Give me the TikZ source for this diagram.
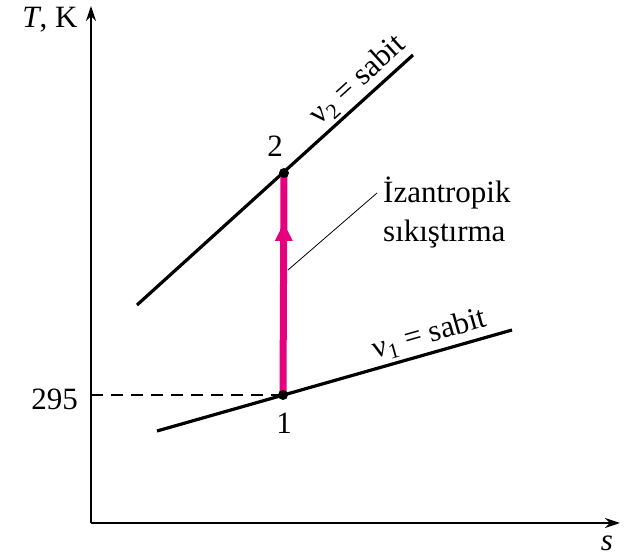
\documentclass[tikz,border=0pt]{standalone}
\usepackage{fontspec}
\setmainfont{Liberation Serif}
\usetikzlibrary{arrows.meta}
\definecolor{pinkc}{HTML}{E5007E}
\begin{document}
\begin{tikzpicture}[x=1pt,y=-1pt,
  axis/.style={line width=1.6pt,-{Stealth[length=15pt,width=10pt]}},
  curve/.style={line width=3.2pt},
  dot/.style={circle,fill=black,inner sep=0pt,minimum size=10pt},
  lbl/.style={font=\fontsize{31}{39}\selectfont},
  pt/.style={coordinate}]
\useasboundingbox (0,0) rectangle (625,559);
% axes
\coordinate (O) at (91,523);
\coordinate (Ytop) at (91,6);
\coordinate (Xend) at (620,523);
\draw[axis] (O) -- (Ytop);
\draw[axis] (O) -- (Xend);
\node[lbl,anchor=center] (Tlab) at (50,20) {\textit{T}, K};
\node[lbl,anchor=center] (slab) at (607,543) {\textit{s}};
% lines
\coordinate (a1) at (157,431);
\coordinate (b1) at (512,330);
\coordinate (a2) at (137,305);
\coordinate (b2) at (413,55);
\draw[curve] (a1) -- node[lbl,sloped,pos=0.782,above,inner sep=3pt] (v1lab) {ν\textsubscript{1} = sabit} (b1);
\draw[curve] (a2) -- node[lbl,sloped,pos=0.845,above,inner sep=3pt] (v2lab) {ν\textsubscript{2} = sabit} (b2);
% points
\coordinate (p1) at (283,395);
\coordinate (p2) at (284,173);
\coordinate (y295) at (91,395);
\draw[line width=1.2pt,dash pattern=on 12pt off 8pt] (y295) -- (p1);
\node[lbl,anchor=east,inner sep=0pt] (t295) at (78,399) {295};
% pink
\draw[pinkc,line width=7pt] (p1) -- (p2);
\path (p1) -- (p2) coordinate[pos=0.775] (ah);
\fill[pinkc] (ah) -- ++(-9,18) -- ++(18,0) -- cycle;
\node[dot] (d1) at (p1) {};
\node[dot] (d2) at (p2) {};
\node[lbl] (n1) at (284,423) {1};
\node[lbl] (n2) at (275,146) {2};
% annotation
\node[lbl,align=left,anchor=base west,inner sep=0pt] (ann) at (383,242) {İzantropik\\sıkıştırma};
\coordinate (lead1) at (288,270);
\coordinate (lead2) at (377,193);
\draw[line width=0.8pt] (lead1) -- (lead2);
\end{tikzpicture}
\end{document}
